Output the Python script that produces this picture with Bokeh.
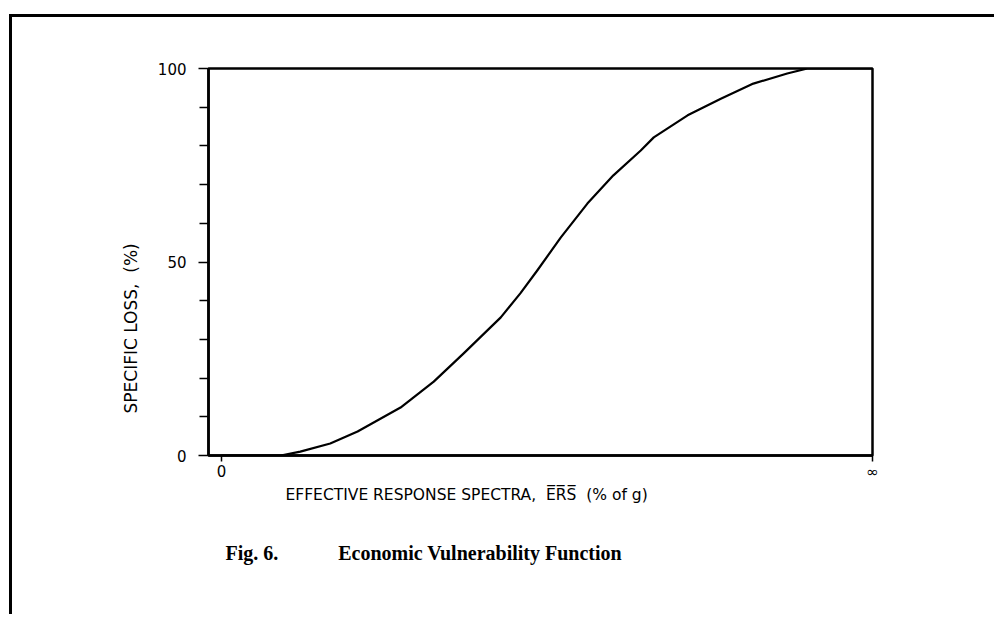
from bokeh.plotting import figure
from bokeh.models import FixedTicker, Range1d, Title
from bokeh.embed import file_html
from bokeh.resources import INLINE

# Data (ERS in % of the axis span, loss in %)
ers = [0.0, 9.1, 12.1, 16.7, 20.9, 27.5, 32.6, 37.2, 42.9, 45.9, 48.5,
       52.1, 56.2, 60.2, 64.4, 66.4, 71.6, 76.7, 81.7, 86.9, 90.0, 100.0]
loss = [0.0, 0.0, 1.0, 3.1, 6.2, 12.4, 19.1, 26.4, 35.7, 41.9, 47.8,
        56.3, 65.1, 72.4, 78.8, 82.2, 87.9, 92.2, 96.1, 98.7, 100.0, 100.0]

y_ticks_major = [0, 50, 100]
y_ticks_minor = [10, 20, 30, 40, 60, 70, 80, 90]
y_tick_labels = {0: "0", 50: "50", 100: "100"}
x_ticks = [0, 100]
x_tick_labels = {0: "0", 100: "\u221e"}

NB = "\u00a0"
x_title = "EFFECTIVE RESPONSE SPECTRA," + NB * 2 + "E\u0305R\u0305S\u0305" + NB * 2 + "(% of g)"
y_title = "SPECIFIC LOSS," + NB * 2 + "(%)"
caption = "Fig. 6." + NB * 12 + "Economic Vulnerability Function"

W, H = 985, 600
p = figure(width=W, height=H, output_backend="svg", toolbar_location=None,
           x_range=Range1d(-2, 100), y_range=Range1d(0, 100),
           min_border_left=196, min_border_top=51,
           min_border_right=125, min_border_bottom=162)
p.margin = (14, 0, 0, 9)
p.styles = {"border-top": "3px solid black", "border-left": "3px solid black"}

p.grid.visible = False
p.background_fill_color = "white"
p.border_fill_color = "white"
p.outline_line_color = "black"
p.outline_line_width = 2.5

for ax in (p.xaxis[0], p.yaxis[0]):
    ax.axis_line_width = 2.5
    ax.axis_line_color = "black"
    ax.major_tick_line_color = "black"
    ax.minor_tick_line_color = "black"
    ax.major_tick_line_width = 1.5
    ax.minor_tick_line_width = 1.5
    ax.major_label_text_font = "DejaVu Sans"
    ax.major_label_text_color = "black"

p.yaxis.ticker = FixedTicker(ticks=y_ticks_major, minor_ticks=y_ticks_minor)
p.yaxis.major_label_overrides = y_tick_labels
p.yaxis.major_tick_out = 10
p.yaxis.major_tick_in = 0
p.yaxis.minor_tick_out = 9
p.yaxis.minor_tick_in = 0
p.yaxis.major_label_standoff = 12
p.yaxis.major_label_text_font_size = "15px"

p.xaxis.ticker = FixedTicker(ticks=x_ticks, minor_ticks=[])
p.xaxis.major_label_overrides = x_tick_labels
p.xaxis.major_tick_out = 6
p.xaxis.major_tick_in = 0
p.xaxis.major_label_standoff = 1
p.xaxis.major_label_text_font_size = "15px"

p.line(ers, loss, line_color="black", line_width=2.2, line_join="round")

p.add_layout(Title(text=x_title, align="left", offset=77, standoff=1,
                   text_font="DejaVu Sans", text_font_size="15.5px",
                   text_font_style="normal", text_color="black"), "below")
p.add_layout(Title(text=caption, align="left", offset=17, standoff=70,
                   text_font="Liberation Serif", text_font_size="20px",
                   text_font_style="bold", text_color="black"), "below")
p.add_layout(Title(text=y_title, align="left", offset=42, standoff=28,
                   text_font="DejaVu Sans", text_font_size="17px",
                   text_font_style="normal", text_color="black"), "left")

open("out.html", "w").write(file_html(p, INLINE))
